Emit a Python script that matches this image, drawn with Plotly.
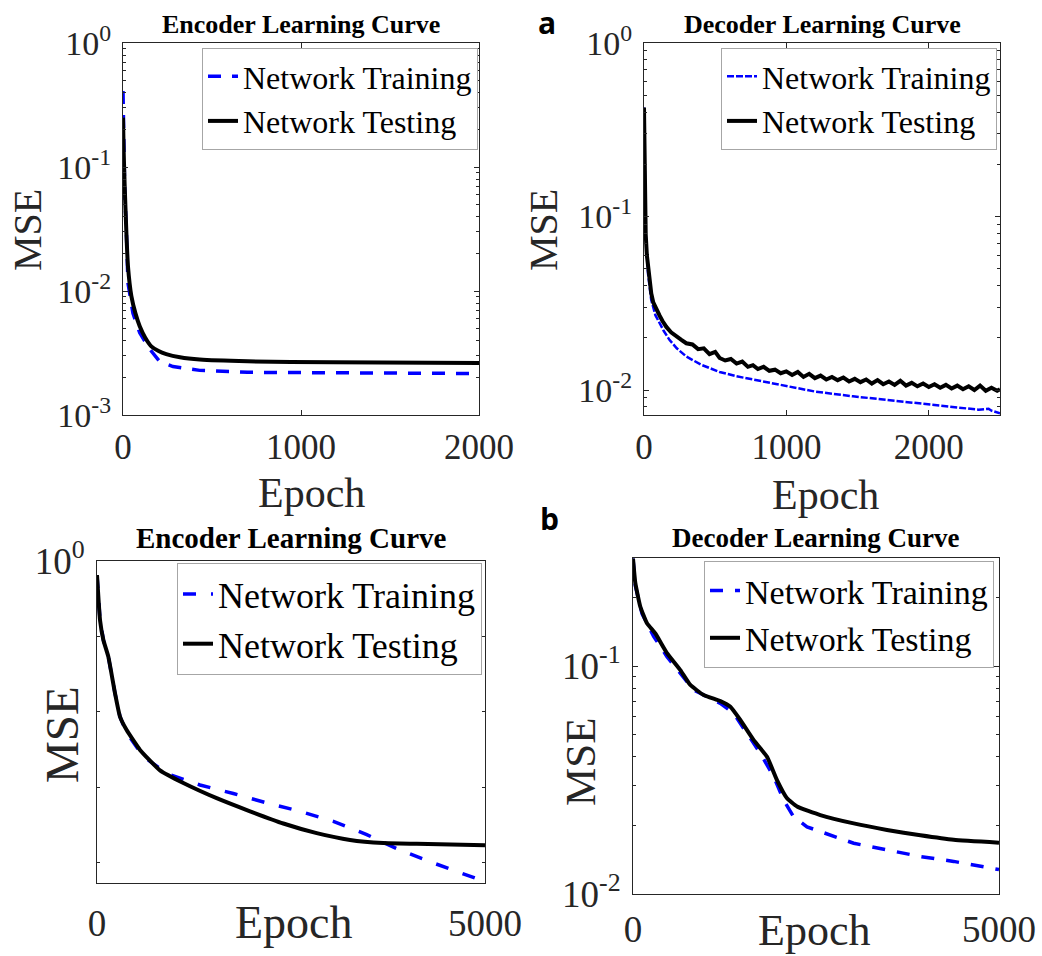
import plotly.graph_objects as go

W, H = 1042, 956
SERIF = "Liberation Serif"
AX = "#262626"
BLUE = "#0000ff"

# ---------------- data ----------------
# (a) Encoder, epochs 0..2000
enc_a_train_x = [0, 3, 9, 19, 28, 56, 94, 150, 206, 281, 431, 700, 1180, 2000]
enc_a_train_y = [0.41, 0.2, 0.07, 0.03, 0.0116, 0.0066, 0.0046, 0.0034, 0.0027, 0.00246, 0.00229, 0.00221, 0.00219, 0.00216]
enc_a_test_x = [0, 4, 9, 19, 28, 47, 70, 94, 125, 159, 200, 243, 320, 431, 700, 1180, 2000]
enc_a_test_y = [0.25, 0.13, 0.074, 0.0294, 0.0158, 0.0091, 0.0066, 0.0052, 0.0042, 0.00358, 0.00328, 0.0031, 0.00292, 0.0028, 0.00271, 0.00266, 0.00263]

# (a) Decoder, epochs 0..2500
dec_a_train_x = [0, 5, 12, 28, 51, 80, 110, 140, 180, 230, 297, 400, 531, 650, 765, 880, 999, 1200, 1467, 1700, 1934, 2168, 2350, 2420, 2440, 2500]
dec_a_train_y = [0.425, 0.2, 0.079, 0.047, 0.033, 0.027, 0.024, 0.0218, 0.0194, 0.0174, 0.0156, 0.0140, 0.0127, 0.0120, 0.0115, 0.0110, 0.0105, 0.0098, 0.0092, 0.0088, 0.0084, 0.0080, 0.0077, 0.0078, 0.0076, 0.00735]
dec_a_test_x = [0, 5, 12, 20, 28, 40, 51, 65, 87, 110, 130, 157, 190, 230, 260, 297,
                340, 380, 420, 460, 500, 531, 570, 610, 650, 690, 730, 765, 800, 840,
                880, 920, 960, 999, 1040, 1080, 1120, 1160, 1200, 1240, 1280, 1320,
                1360, 1400, 1440, 1480, 1520, 1560, 1600, 1640, 1680, 1720, 1760,
                1800, 1840, 1880, 1920, 1960, 2000, 2040, 2080, 2120, 2160, 2200,
                2240, 2280, 2320, 2360, 2400, 2440, 2480, 2500]
dec_a_test_y = [0.425, 0.2, 0.079, 0.060, 0.051, 0.042, 0.036, 0.032, 0.029, 0.0268, 0.0250, 0.0231, 0.0215, 0.0202, 0.0195, 0.0186,
                0.0183, 0.0172, 0.0174, 0.0161, 0.0166, 0.0153, 0.0148, 0.0151, 0.0142, 0.0146, 0.0136, 0.0139, 0.0132, 0.0136,
                0.0129, 0.0131, 0.0125, 0.0128, 0.0122, 0.0127, 0.0119, 0.0124, 0.0117, 0.0121, 0.0115, 0.0119,
                0.0114, 0.0118, 0.0112, 0.0116, 0.0111, 0.0115, 0.0109, 0.0114, 0.0108, 0.0112, 0.0107,
                0.0113, 0.0106, 0.0110, 0.0105, 0.0109, 0.0104, 0.0108, 0.0103, 0.0107, 0.0102, 0.0106,
                0.0101, 0.0105, 0.0100, 0.0106, 0.0099, 0.0103, 0.0099, 0.0101]

# (b) Encoder, epochs 0..5000
enc_b_train_x = [0, 39, 82, 146, 232, 296, 382, 597, 898, 1327, 1757, 2187, 2616, 3046, 3476, 3905, 4335, 4764, 5000]
enc_b_train_y = [0.958, 0.835, 0.786, 0.747, 0.668, 0.622, 0.592, 0.551, 0.523, 0.505, 0.492, 0.478, 0.466, 0.452, 0.434, 0.414, 0.398, 0.384, 0.376]
enc_b_test_x = [0, 39, 82, 146, 232, 296, 382, 554, 812, 1113, 1542, 1972, 2401, 2831, 3261, 3690, 4120, 5000]
enc_b_test_y = [0.958, 0.835, 0.786, 0.747, 0.668, 0.622, 0.597, 0.562, 0.528, 0.508, 0.485, 0.466, 0.449, 0.436, 0.427, 0.423, 0.422, 0.420]

# (b) Decoder, epochs 0..5000
dec_b_train_x = [0, 32, 123, 282, 464, 647, 829, 1011, 1193, 1375, 1557, 1740, 1922, 2058, 2195, 2377, 3015, 3470, 3926, 4381, 5000]
dec_b_train_y = [0.296, 0.225, 0.170, 0.135, 0.110, 0.093, 0.0785, 0.0734, 0.0686, 0.062, 0.0507, 0.0414, 0.0327, 0.0258, 0.0218, 0.0197, 0.0167, 0.0156, 0.0146, 0.0139, 0.0128]
dec_b_test_x = [0, 32, 100, 191, 305, 464, 647, 783, 965, 1193, 1330, 1466, 1649, 1831, 1967, 2104, 2241, 2559, 3015, 3470, 3926, 4381, 5000]
dec_b_test_y = [0.296, 0.231, 0.182, 0.154, 0.139, 0.114, 0.096, 0.0826, 0.0746, 0.0702, 0.0663, 0.058, 0.0473, 0.040, 0.0316, 0.0263, 0.0242, 0.0222, 0.0204, 0.0191, 0.0181, 0.0173, 0.0168]

names = ["Network Training", "Network Testing"]


def dx(l, r):
    return [l / W, r / W]


def dy(t, b):
    return [1 - b / H, 1 - t / H]


fig = go.Figure()

panels = [
    ("x", "y", "legend", (enc_a_train_x, enc_a_train_y), (enc_a_test_x, enc_a_test_y), "13px,11px", 3.5, "spline"),
    ("x2", "y2", "legend2", (dec_a_train_x, dec_a_train_y), (dec_a_test_x, dec_a_test_y), "7px,2px", 2.5, "linear"),
    ("x3", "y3", "legend3", (enc_b_train_x, enc_b_train_y), (enc_b_test_x, enc_b_test_y), "13px,15px", 3.5, "spline"),
    ("x4", "y4", "legend4", (dec_b_train_x, dec_b_train_y), (dec_b_test_x, dec_b_test_y), "13px,12px", 3.5, "spline"),
]
for xa, ya, lg, tr, te, dash, bw, shp in panels:
    fig.add_trace(go.Scatter(x=tr[0], y=tr[1], mode="lines", name=names[0],
                             line=dict(color=BLUE, width=bw, dash=dash),
                             xaxis=xa, yaxis=ya, legend=lg))
    fig.add_trace(go.Scatter(x=te[0], y=te[1], mode="lines", name=names[1],
                             line=dict(color="black", width=4, shape=shp, smoothing=0.4),
                             xaxis=xa, yaxis=ya, legend=lg))


def sup(e):
    return "10<sup>%s</sup>" % e


def xaxis(dom, rng, tv, tt, fs, ticks="inside", anchor="y", standoff=1):
    return dict(domain=dom, range=rng, tickvals=tv, ticktext=tt, ticks=ticks, ticklen=5,
                tickcolor=AX, showline=True, linecolor=AX, linewidth=1, mirror="ticks" if ticks else True,
                showgrid=False, zeroline=False, anchor=anchor, automargin=False,
                tickfont=dict(family=SERIF, size=fs, color=AX), ticklabelstandoff=standoff)


def yaxis(dom, rng, tv, tt, fs, minor, anchor="x"):
    return dict(domain=dom, type="log", range=rng, tickmode="array", tickvals=tv, ticktext=tt,
                ticks="inside", ticklen=5, tickcolor=AX,
                minor=dict(tickmode="array", tickvals=minor, ticks="inside", ticklen=3, tickcolor=AX),
                showline=True, linecolor=AX, linewidth=1, mirror="ticks",
                showgrid=False, zeroline=False, anchor=anchor, automargin=False,
                tickfont=dict(family=SERIF, size=fs, color=AX), ticklabelstandoff=4)


minor_a1 = [k * 10 ** e for e in (-3, -2, -1) for k in range(2, 10)]
minor_a2 = [0.008, 0.009] + [k * 10 ** e for e in (-2, -1) for k in range(2, 10)]
minor_b2 = [k * 0.01 for k in range(2, 10)] + [0.2]

fig.update_layout(
    width=W, height=H, margin=dict(l=0, r=0, t=0, b=0, autoexpand=False),
    paper_bgcolor="white", plot_bgcolor="white",
    xaxis=xaxis(dx(123, 479), [0, 2000], [0, 1000, 2000], ["0", "1000", "2000"], 35, anchor="y"),
    yaxis=yaxis(dy(43, 415), [-3, 0], [1, 0.1, 0.01, 0.001], [sup(0), sup(-1), sup(-2), sup(-3)], 34, minor_a1, anchor="x"),
    xaxis2=xaxis(dx(644, 1000), [0, 2500], [0, 1000, 2000], ["0", "1000", "2000"], 35, anchor="y2"),
    yaxis2=yaxis(dy(43, 415), [-2.144, 0], [1, 0.1, 0.01], [sup(0), sup(-1), sup(-2)], 34, minor_a2, anchor="x2"),
    xaxis3=xaxis(dx(97, 485), [0, 5000], [0, 5000], ["0", "5000"], 37, ticks="", anchor="y3", standoff=8),
    yaxis3=yaxis(dy(561, 883), [-0.4266, 0], [1], [sup(0)], 37,
                 [10 ** -0.1, 10 ** -0.2, 10 ** -0.3, 10 ** -0.4], anchor="x3"),
    xaxis4=xaxis(dx(633, 999), [0, 5000], [0, 5000], ["0", "5000"], 37, ticks="", anchor="y4", standoff=3),
    yaxis4=yaxis(dy(558, 894), [-2, -0.526], [0.1, 0.01], [sup(-1), sup(-2)], 37, minor_b2, anchor="x4"),
    showlegend=True,
)


def leg(right, top, fs):
    return dict(x=right / W, xanchor="right", y=1 - top / H, yanchor="top",
                bgcolor="white", bordercolor="#a6a6a6", borderwidth=1,
                font=dict(family=SERIF, size=fs, color="black"),
                itemwidth=30, tracegroupgap=0, traceorder="normal")


fig.update_layout(
    legend=leg(478, 48, 32),
    legend2=leg(997, 48, 32),
    legend3=leg(482, 563, 36),
    legend4=leg(994, 561, 34),
)

anns = []


def txt(x, y, s, size, color=AX, angle=0, bold=False, family=SERIF):
    anns.append(dict(x=x / W, y=1 - y / H, xref="paper", yref="paper", text=s, showarrow=False,
                     xanchor="center", yanchor="middle", textangle=angle,
                     font=dict(family=family, size=size, color=color, weight="bold" if bold else "normal")))


txt(301, 25, "Encoder Learning Curve", 26, color="black", bold=True)
txt(822, 25, "Decoder Learning Curve", 26, color="black", bold=True)
txt(291, 538, "Encoder Learning Curve", 29, color="black", bold=True)
txt(815, 538, "Decoder Learning Curve", 27, color="black", bold=True)

txt(27, 230, "MSE", 40, angle=-90)
txt(543, 230, "MSE", 40, angle=-90)
txt(62, 735, "MSE", 47, angle=-90)
txt(580, 762, "MSE", 43, angle=-90)

txt(311, 493, "Epoch", 42)
txt(825, 495, "Epoch", 42)
txt(294, 922, "Epoch", 46)
txt(814, 930, "Epoch", 44)

txt(547, 23, "a", 30, color="black", bold=True, family="Open Sans")
txt(549, 518, "b", 30, color="black", bold=True, family="Open Sans")

fig.update_layout(annotations=anns)

fig.write_html("out.html")
